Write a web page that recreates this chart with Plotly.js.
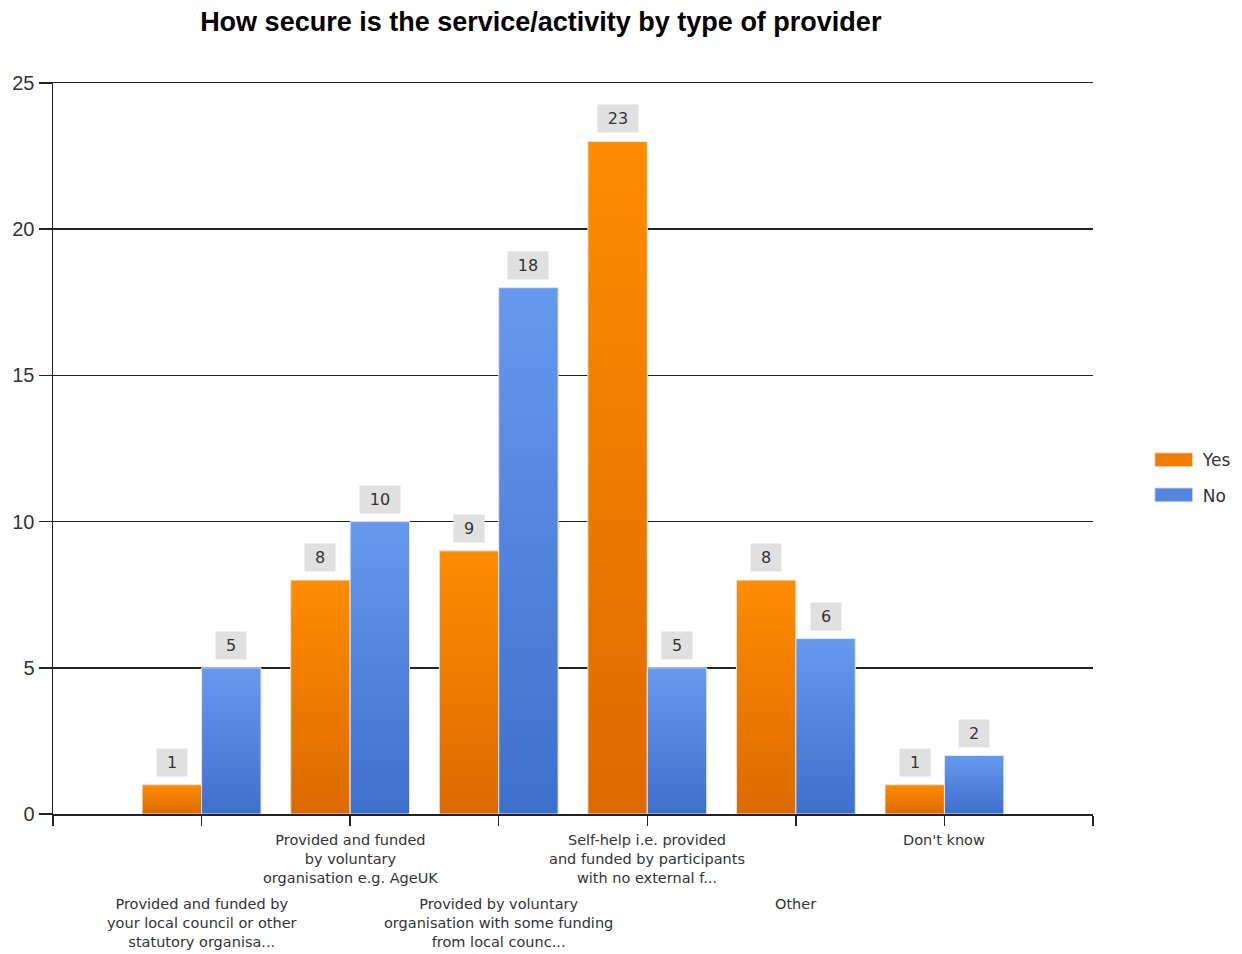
<!DOCTYPE html>
<html>
<head>
<meta charset="utf-8">
<script src="https://cdn.plot.ly/plotly-3.0.1.min.js"></script>
<style>html,body{margin:0;padding:0;background:#fff;}#chart{width:1242px;height:954px;}</style>
</head>
<body>
<div id="chart"></div>
<script>
// ---- data ----
const categories = [
  "Provided and funded by<br>your local council or other<br>statutory organisa...",
  "Provided and funded<br>by voluntary<br>organisation e.g. AgeUK",
  "Provided by voluntary<br>organisation with some funding<br>from local counc...",
  "Self-help i.e. provided<br>and funded by participants<br>with no external f...",
  "Other",
  "Don't know"
];
const positions = [1, 2, 3, 4, 5, 6];
const yesValues = [1, 8, 9, 23, 8, 1];
const noValues = [5, 10, 18, 5, 6, 2];
const seriesNames = ["Yes", "No"];
const yTicks = [0, 5, 10, 15, 20, 25];

const orangeMid = "#F07C00";
const blueMid = "#5586DE";

const traces = [
  {type: "bar", name: seriesNames[0], x: positions, y: yesValues, legendgroup: "a",
   marker: {color: orangeMid, line: {color: "#e6e6e6", width: 1}}, hoverinfo: "y"},
  {type: "bar", name: seriesNames[1], x: positions, y: noValues, legendgroup: "b",
   marker: {color: blueMid, line: {color: "#e6e6e6", width: 1}}, hoverinfo: "y"}
];

const annotations = [];
function addLabels(vals, shift) {
  vals.forEach((v, i) => {
    const s = String(v);
    annotations.push({
      x: positions[i] + shift, y: v, xref: "x", yref: "y",
      text: s, showarrow: false, yanchor: "bottom", yshift: 8,
      bgcolor: "#e0e0e0", borderpad: 4, width: s.length * 10 + 12, height: 19,
      font: {family: "DejaVu Sans, sans-serif", size: 16, color: "#333"}
    });
  });
}
addLabels(yesValues, -0.2);
addLabels(noValues, 0.2);

categories.forEach((c, i) => {
  annotations.push({
    x: positions[i], y: 0, xref: "x", yref: "paper",
    text: c, showarrow: false, yanchor: "top", xanchor: "center",
    yshift: (i % 2 === 0) ? -80 : -16, align: "center",
    font: {family: "DejaVu Sans, sans-serif", size: 14.5, color: "#333"}
  });
});

const layout = {
  width: 1242, height: 954,
  margin: {l: 53, r: 149, t: 83, b: 140, autoexpand: false},
  paper_bgcolor: "#fff", plot_bgcolor: "#fff",
  title: {text: "How secure is the service/activity by type of provider",
          x: 0.469, xref: "paper", xanchor: "center", y: 0.977, yanchor: "middle",
          font: {family: "Liberation Sans, Arial, sans-serif", size: 27, color: "#000", weight: "bold"}},
  barmode: "group", bargap: 0.2, bargroupgap: 0,
  xaxis: {range: [0, 7], tickvals: [0, 1, 2, 3, 4, 5, 6, 7], ticktext: ["", "", "", "", "", "", "", ""],
          ticks: "outside", ticklen: 10, tickwidth: 1.5, tickcolor: "#222", mirror: true,
          showline: true, linecolor: "#222", linewidth: 1.5, showgrid: false, zeroline: false,
          fixedrange: true},
  yaxis: {range: [0, 25], tickvals: yTicks, ticks: "outside", ticklen: 13, tickwidth: 1.5, tickcolor: "#222",
          showline: true, linecolor: "#222", linewidth: 1.5, showgrid: true, gridcolor: "#222", gridwidth: 1.5,
          zeroline: false, tickfont: {family: "Liberation Sans, Arial, sans-serif", size: 20, color: "#333"},
          fixedrange: true},
  legend: {x: 1.0575, y: 0.46, xanchor: "left", yanchor: "middle",
           font: {family: "DejaVu Sans, sans-serif", size: 17, color: "#333"},
           itemwidth: 40, tracegroupgap: 10},
  annotations: annotations,
  showlegend: true
};

Plotly.newPlot("chart", traces, layout, {displayModeBar: false, staticPlot: true}).then(gd => {
  const svg = gd.querySelector(".main-svg");
  const ns = "http://www.w3.org/2000/svg";
  let defs = svg.querySelector("defs");
  if (!defs) { defs = document.createElementNS(ns, "defs"); svg.insertBefore(defs, svg.firstChild); }
  function grad(id, top, bottom) {
    const g = document.createElementNS(ns, "linearGradient");
    g.setAttribute("id", id);
    g.setAttribute("x1", "0"); g.setAttribute("y1", "0");
    g.setAttribute("x2", "0"); g.setAttribute("y2", "1");
    [[0, top], [1, bottom]].forEach(([o, c]) => {
      const s = document.createElementNS(ns, "stop");
      s.setAttribute("offset", o); s.setAttribute("stop-color", c);
      g.appendChild(s);
    });
    defs.appendChild(g);
  }
  grad("gradYes", "#FF8C00", "#DC6A00");
  grad("gradNo", "#6699EE", "#3F6FCC");
  const ids = ["gradYes", "gradNo"];
  gd.querySelectorAll(".barlayer .trace").forEach((t, k) => {
    t.querySelectorAll(".point path").forEach(p => { p.style.fill = "url(#" + ids[k] + ")"; });
  });
  // wide legend swatches
  gd.querySelectorAll(".legend .legendpoints path").forEach(p => {
    p.setAttribute("d", "M-23,-7h38v14h-38z");
    p.style.stroke = "#e6e6e6"; p.style.strokeWidth = "1px";
  });
});
</script>
</body>
</html>
